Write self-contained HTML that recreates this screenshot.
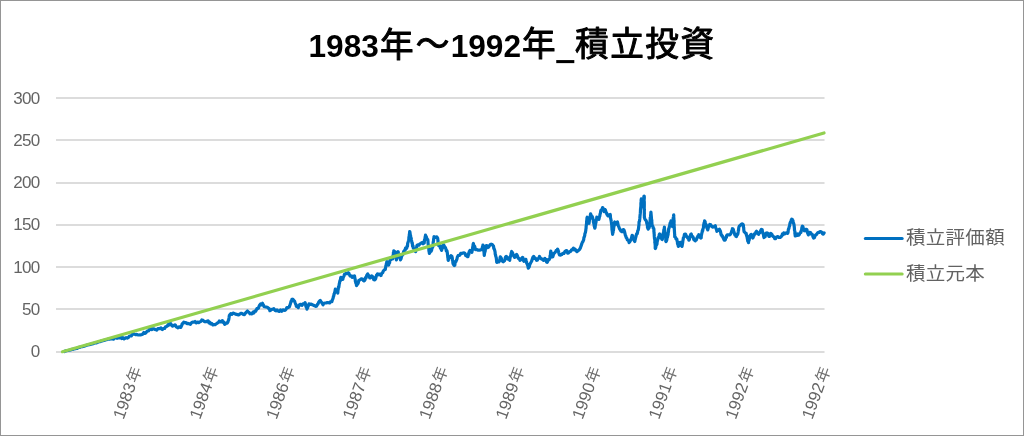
<!DOCTYPE html>
<html lang="ja"><head><meta charset="utf-8"><title>1983年～1992年_積立投資</title>
<style>html,body{margin:0;padding:0;background:#fff;}body{width:1024px;height:436px;overflow:hidden;font-family:"Liberation Sans","Noto Sans CJK JP",sans-serif;}svg{display:block;}text{font-family:"Liberation Sans","Noto Sans CJK JP",sans-serif;}</style></head><body>
<svg width="1024" height="436" viewBox="0 0 1024 436">
<rect x="0" y="0" width="1024" height="436" fill="#fff"/>
<rect x="0.5" y="0.5" width="1023" height="435" fill="none" stroke="#959595" stroke-width="1"/>
<g stroke="#dcdcdc" stroke-width="2">
<line x1="56" y1="98" x2="824.5" y2="98"/>
<line x1="56" y1="140" x2="824.5" y2="140"/>
<line x1="56" y1="183" x2="824.5" y2="183"/>
<line x1="56" y1="225" x2="824.5" y2="225"/>
<line x1="56" y1="267" x2="824.5" y2="267"/>
<line x1="56" y1="309" x2="824.5" y2="309"/>
<line x1="56" y1="352" x2="824.5" y2="352"/>
</g>
<g fill="#646464" font-size="17" text-anchor="end" letter-spacing="-0.7">
<text x="39.4" y="103.90">300</text>
<text x="39.4" y="145.90">250</text>
<text x="39.4" y="188.30">200</text>
<text x="39.4" y="230.00">150</text>
<text x="39.4" y="272.70">100</text>
<text x="39.4" y="315.00">50</text>
<text x="39.4" y="356.80">0</text>
</g>
<text fill="#000" font-weight="bold"><tspan x="308.5" y="56.6" font-size="31.6">1983</tspan><tspan x="380" y="56.5" font-weight="normal" stroke="#000" stroke-width="1" stroke-linejoin="round" font-size="33.6">年</tspan><tspan x="415.7" y="55.5" font-weight="normal" stroke="#000" stroke-width="1" stroke-linejoin="round" font-size="33.6">～</tspan><tspan x="450.7" y="56.6" font-size="31.6">1992</tspan><tspan x="521.9" y="56.3" font-weight="normal" stroke="#000" stroke-width="1" stroke-linejoin="round" font-size="33.6">年</tspan><tspan x="557.6" y="59.1" font-size="28" stroke="#000" stroke-width="2">_</tspan><tspan x="575" y="56.3" letter-spacing="1.6" font-weight="normal" stroke="#000" stroke-width="1" stroke-linejoin="round" font-size="33.6">積立投資</tspan></text>
<g fill="#646464" font-size="16.8">
<text transform="translate(142.1,369.2) rotate(-70)" text-anchor="end">1983<tspan font-size="15.6" dx="1.5" fill="#6e6e6e">年</tspan></text>
<text transform="translate(218.6,369.2) rotate(-70)" text-anchor="end">1984<tspan font-size="15.6" dx="1.5" fill="#6e6e6e">年</tspan></text>
<text transform="translate(295.1,369.2) rotate(-70)" text-anchor="end">1986<tspan font-size="15.6" dx="1.5" fill="#6e6e6e">年</tspan></text>
<text transform="translate(371.7,369.2) rotate(-70)" text-anchor="end">1987<tspan font-size="15.6" dx="1.5" fill="#6e6e6e">年</tspan></text>
<text transform="translate(448.2,369.2) rotate(-70)" text-anchor="end">1988<tspan font-size="15.6" dx="1.5" fill="#6e6e6e">年</tspan></text>
<text transform="translate(524.7,369.2) rotate(-70)" text-anchor="end">1989<tspan font-size="15.6" dx="1.5" fill="#6e6e6e">年</tspan></text>
<text transform="translate(601.2,369.2) rotate(-70)" text-anchor="end">1990<tspan font-size="15.6" dx="1.5" fill="#6e6e6e">年</tspan></text>
<text transform="translate(677.7,369.2) rotate(-70)" text-anchor="end">1991<tspan font-size="15.6" dx="1.5" fill="#6e6e6e">年</tspan></text>
<text transform="translate(754.3,369.2) rotate(-70)" text-anchor="end">1992<tspan font-size="15.6" dx="1.5" fill="#6e6e6e">年</tspan></text>
<text transform="translate(830.8,369.2) rotate(-70)" text-anchor="end">1992<tspan font-size="15.6" dx="1.5" fill="#6e6e6e">年</tspan></text>
</g>
<path d="M64.3,351.5 L65.5,351.0 L66.8,350.6 L68.0,350.5 L69.2,350.2 L70.4,349.9 L71.7,349.4 L73.0,349.4 L74.2,348.8 L75.5,348.6 L76.8,348.5 L78.0,347.8 L79.3,347.3 L80.5,347.1 L81.6,346.6 L82.9,346.6 L84.1,346.2 L85.4,345.7 L86.7,345.2 L87.8,344.9 L89.2,344.7 L90.3,344.4 L91.6,343.9 L92.9,343.8 L94.1,343.3 L95.3,343.0 L96.6,342.8 L97.9,342.1 L99.2,341.7 L100.3,341.6 L101.5,341.1 L102.7,340.8 L104.1,340.4 L105.4,339.9 L106.6,339.7 L107.8,339.3 L108.9,339.1 L110.1,339.1 L111.2,338.7 L112.2,338.8 L113.5,339.2 L114.6,338.0 L115.9,337.5 L117.0,338.3 L118.2,337.8 L119.5,337.9 L120.6,337.2 L121.7,338.6 L122.9,337.6 L124.1,338.9 L125.3,338.2 L126.2,337.7 L127.3,338.1 L128.3,337.6 L129.2,336.3 L130.2,336.0 L131.2,336.0 L132.2,334.5 L133.4,333.9 L134.4,334.1 L135.5,334.7 L136.8,334.4 L137.8,334.8 L139.0,335.0 L139.9,334.9 L141.0,334.9 L141.9,334.5 L142.9,334.0 L143.9,332.5 L144.9,333.4 L145.9,332.8 L146.8,331.6 L147.8,330.8 L148.7,330.8 L149.6,329.1 L150.7,329.4 L151.3,328.8 L152.0,329.5 L152.9,328.7 L153.9,328.9 L154.8,329.4 L155.9,329.7 L156.8,330.2 L157.9,328.5 L158.8,328.6 L159.8,328.7 L161.0,327.9 L162.3,329.6 L163.4,328.5 L164.6,328.5 L165.4,327.0 L166.2,326.6 L167.1,326.3 L168.0,324.7 L168.6,325.4 L169.5,323.6 L170.2,323.5 L170.8,323.8 L171.5,325.3 L172.6,326.1 L173.8,325.4 L174.9,324.8 L175.5,325.3 L176.2,326.9 L176.9,327.2 L178.0,327.8 L179.1,326.8 L180.3,327.4 L180.8,327.5 L181.3,326.2 L181.8,325.2 L182.2,323.8 L183.0,323.4 L183.8,322.1 L184.7,322.6 L185.7,322.5 L186.9,323.6 L188.1,323.4 L189.1,323.8 L190.4,324.4 L191.6,322.7 L192.6,322.1 L193.9,322.2 L195.0,321.5 L196.3,322.9 L197.5,322.0 L198.7,322.6 L199.8,321.9 L200.4,321.6 L201.2,321.1 L201.8,319.9 L203.0,320.3 L203.9,321.3 L205.1,321.8 L206.2,321.6 L207.2,321.0 L208.1,320.9 L208.9,322.8 L209.7,322.2 L210.5,323.8 L211.6,323.3 L212.9,324.9 L214.0,324.5 L215.1,324.6 L216.4,323.7 L217.4,322.9 L218.4,322.5 L219.3,321.0 L220.4,321.8 L221.3,321.9 L222.3,320.6 L222.9,322.3 L223.6,321.9 L224.1,323.0 L224.7,324.3 L225.5,323.8 L226.4,322.8 L227.2,323.1 L228.1,321.6 L228.3,320.4 L228.6,320.2 L228.8,319.1 L229.1,317.3 L229.4,315.1 L229.6,315.0 L230.7,313.7 L231.8,314.3 L233.0,313.1 L234.2,313.5 L235.5,314.1 L236.6,314.4 L237.9,314.8 L238.9,314.9 L239.8,314.0 L240.8,313.4 L241.7,313.4 L242.9,314.2 L243.8,314.6 L244.4,314.6 L245.0,313.6 L245.9,312.6 L246.6,311.9 L247.4,311.0 L248.3,312.0 L249.1,312.4 L250.0,313.8 L250.9,313.6 L251.9,313.9 L252.9,312.2 L253.8,313.0 L254.8,311.0 L255.7,311.2 L256.3,310.1 L256.9,308.7 L257.6,308.6 L258.4,308.1 L258.9,306.7 L259.6,305.3 L260.6,303.9 L261.7,304.9 L262.6,303.3 L263.0,305.1 L263.5,305.0 L264.1,306.6 L264.5,306.8 L265.6,307.0 L266.8,307.1 L267.9,307.7 L268.5,308.3 L269.3,308.7 L269.9,310.7 L270.9,310.1 L271.8,309.4 L272.8,309.2 L273.8,308.7 L274.8,310.2 L276.1,310.8 L277.0,310.0 L278.2,311.0 L279.3,311.4 L280.5,309.9 L281.7,311.3 L283.0,309.9 L284.1,310.2 L285.0,310.4 L286.0,309.4 L286.9,307.5 L288.0,307.7 L288.9,307.2 L289.2,307.0 L289.8,305.6 L290.1,304.6 L290.5,303.5 L291.0,301.3 L291.5,301.4 L291.9,299.4 L292.7,299.2 L293.5,299.9 L294.3,300.9 L294.6,301.3 L295.0,302.5 L295.5,303.8 L296.0,304.8 L296.3,306.3 L297.3,306.4 L298.2,307.7 L298.7,305.9 L299.2,305.0 L299.7,305.3 L300.2,304.3 L301.1,304.7 L302.1,305.3 L302.9,303.8 L303.7,303.8 L304.3,303.9 L305.1,302.6 L305.4,303.7 L305.8,305.8 L306.0,306.6 L306.4,307.3 L306.7,307.8 L307.0,309.2 L307.3,307.4 L307.7,307.5 L308.2,305.3 L308.5,305.6 L309.0,303.8 L310.2,304.5 L311.2,304.0 L312.4,304.8 L313.5,305.2 L314.6,305.7 L315.8,306.3 L316.5,306.2 L317.4,304.4 L317.9,304.3 L318.7,302.1 L319.4,301.1 L320.2,300.4 L320.8,301.3 L321.3,302.2 L321.8,302.6 L322.4,303.7 L323.1,304.8 L324.0,303.2 L325.1,303.0 L326.1,302.9 L327.3,302.7 L328.5,302.7 L329.6,302.9 L330.7,301.5 L331.9,301.6 L332.3,299.9 L332.5,299.8 L332.7,299.2 L333.2,297.8 L333.4,296.5 L333.8,295.9 L334.0,294.1 L334.4,293.5 L334.7,292.3 L335.0,291.2 L335.3,289.2 L336.0,290.6 L336.5,290.2 L337.1,291.8 L337.8,293.1 L337.8,292.9 L337.9,291.6 L337.9,290.5 L338.2,289.7 L338.4,287.1 L338.8,287.4 L339.0,285.8 L339.3,283.6 L339.6,282.8 L339.7,281.6 L340.1,280.3 L340.4,280.7 L340.6,278.3 L340.9,277.3 L341.5,278.3 L342.2,278.9 L342.8,279.3 L343.2,277.5 L343.5,276.8 L344.0,276.0 L344.4,274.4 L344.8,274.4 L345.8,273.4 L347.1,273.7 L348.2,272.7 L348.9,273.3 L349.5,274.8 L350.1,275.9 L351.1,275.8 L352.1,277.3 L353.0,276.2 L353.8,277.2 L354.5,275.9 L354.7,277.0 L355.1,279.3 L355.2,279.1 L355.4,281.6 L355.7,282.1 L355.9,283.2 L356.3,283.7 L356.5,285.6 L357.1,284.6 L357.7,283.9 L358.2,283.2 L358.8,280.4 L359.4,280.3 L360.1,279.8 L361.1,278.9 L361.9,278.8 L362.6,279.2 L363.5,280.8 L364.3,280.8 L364.8,280.2 L365.5,277.7 L366.1,277.8 L366.6,275.8 L367.1,274.8 L367.7,273.9 L368.3,275.1 L368.7,275.7 L369.2,275.9 L369.7,277.8 L370.3,277.8 L370.9,277.4 L371.6,275.9 L372.3,276.4 L373.1,277.2 L373.8,279.7 L374.6,279.8 L375.2,279.4 L375.6,278.7 L376.1,276.9 L376.6,275.0 L377.1,274.8 L377.5,273.9 L378.7,274.8 L379.7,274.1 L380.9,275.6 L381.6,273.7 L382.1,273.0 L382.7,272.6 L383.3,271.0 L384.4,269.8 L385.3,269.5 L385.5,268.0 L385.7,267.1 L385.9,265.5 L386.1,265.9 L386.4,263.4 L386.7,263.8 L386.8,261.7 L387.4,262.1 L388.0,263.1 L388.7,265.1 L389.0,263.2 L389.2,262.5 L389.6,262.7 L389.9,260.7 L390.2,259.8 L391.0,259.5 L391.8,258.8 L392.6,258.8 L392.7,257.2 L393.0,255.8 L393.1,255.7 L393.4,253.7 L393.4,252.7 L393.6,251.9 L393.8,250.9 L394.5,252.0 L395.0,251.7 L395.3,251.9 L395.3,254.5 L395.7,255.2 L395.8,255.4 L396.0,258.4 L396.3,259.4 L396.4,259.9 L396.8,258.2 L396.8,256.9 L397.2,256.7 L397.5,255.7 L397.7,254.6 L397.9,253.0 L398.2,251.7 L398.4,253.4 L398.8,254.9 L399.2,254.8 L399.4,255.9 L399.9,258.0 L400.1,257.9 L400.5,259.9 L401.0,258.9 L401.4,257.1 L401.9,255.5 L402.3,255.3 L402.9,254.5 L403.4,253.0 L403.7,251.4 L404.2,250.8 L405.0,250.4 L405.5,248.2 L406.2,248.7 L406.9,247.6 L407.2,245.9 L407.5,246.1 L407.7,243.1 L408.0,242.7 L408.4,241.1 L408.6,240.5 L408.8,239.7 L408.9,237.3 L409.2,236.3 L409.3,234.8 L409.3,234.6 L409.5,233.7 L409.7,231.5 L409.9,231.9 L410.1,233.5 L410.4,235.6 L410.6,235.6 L410.8,237.8 L411.1,237.9 L411.2,238.1 L411.4,239.8 L411.8,241.9 L412.0,243.2 L412.3,242.9 L412.4,244.3 L412.6,246.4 L413.0,245.8 L413.3,248.0 L413.9,248.7 L414.4,249.5 L415.0,249.8 L415.6,251.7 L415.8,250.3 L416.2,248.8 L416.4,247.9 L416.5,248.1 L416.8,246.2 L417.0,245.3 L417.8,244.8 L418.8,245.2 L419.8,243.9 L420.8,243.4 L422.1,242.5 L423.1,243.8 L424.2,243.0 L424.4,241.0 L424.5,239.9 L424.8,239.2 L425.0,239.3 L425.1,237.0 L425.4,236.5 L425.5,235.2 L425.9,236.5 L426.3,236.6 L426.6,238.4 L427.1,238.8 L427.5,240.0 L427.8,239.7 L428.0,241.6 L428.0,242.8 L428.3,245.1 L428.3,244.9 L428.4,246.7 L428.5,248.0 L428.8,248.5 L428.9,250.7 L429.1,251.8 L429.2,252.1 L429.4,253.5 L429.9,252.3 L430.6,250.9 L431.1,251.3 L431.7,249.9 L431.9,247.9 L432.2,247.8 L432.5,247.5 L432.9,246.4 L433.1,244.3 L433.2,242.2 L433.3,241.7 L433.6,240.3 L433.6,239.0 L433.9,238.2 L434.0,236.6 L434.9,237.5 L435.8,237.0 L436.8,236.9 L437.7,238.4 L437.8,239.2 L437.9,240.5 L438.0,241.3 L438.0,242.6 L438.1,244.3 L438.7,245.7 L439.4,245.2 L440.0,246.2 L440.4,248.2 L440.8,247.7 L441.3,249.6 L441.6,250.3 L442.0,248.4 L442.2,248.7 L442.6,247.8 L442.8,245.5 L443.2,244.8 L443.7,244.9 L444.5,246.5 L445.0,247.1 L445.5,247.9 L446.0,249.2 L446.3,251.0 L446.9,250.7 L447.3,252.6 L447.4,254.0 L447.5,254.6 L447.6,255.4 L447.8,257.3 L448.0,257.6 L448.0,258.9 L448.2,260.4 L448.7,258.8 L449.1,258.0 L449.6,257.7 L450.0,256.7 L450.9,255.7 L451.9,256.3 L452.1,257.6 L452.3,257.8 L452.4,260.2 L452.7,260.6 L452.9,263.1 L453.1,263.5 L453.3,264.5 L453.8,264.8 L454.3,265.5 L454.8,265.3 L455.1,262.5 L455.6,261.4 L455.9,261.6 L456.4,260.2 L456.9,259.2 L457.3,257.2 L458.1,255.6 L458.9,255.4 L459.9,255.1 L460.7,253.3 L461.8,253.4 L462.9,253.0 L464.1,252.8 L464.9,253.3 L465.8,255.6 L466.6,255.7 L467.5,256.7 L468.0,256.6 L468.3,253.9 L468.8,254.5 L469.2,251.6 L469.7,251.2 L470.0,250.4 L470.7,251.3 L471.3,251.0 L471.9,252.3 L472.2,250.5 L472.3,250.5 L472.6,247.9 L472.7,247.1 L473.0,245.8 L473.1,244.3 L473.4,243.5 L473.8,245.5 L474.1,246.0 L474.6,246.1 L475.0,247.5 L475.3,249.4 L476.2,249.7 L477.1,249.5 L478.0,250.1 L479.0,250.1 L479.9,250.2 L480.9,249.6 L481.9,249.6 L482.1,248.7 L482.4,246.9 L482.7,246.9 L482.9,245.2 L483.1,245.8 L483.2,247.0 L483.4,248.9 L483.5,250.2 L483.8,250.7 L484.0,252.0 L484.2,254.7 L484.3,255.4 L484.5,253.3 L484.7,252.7 L485.0,251.0 L485.1,251.5 L485.3,250.0 L485.4,249.1 L485.6,247.8 L485.8,245.7 L486.8,245.5 L487.8,247.5 L488.7,247.1 L489.4,245.8 L490.4,244.5 L491.2,244.2 L492.2,244.5 L493.1,245.7 L493.5,246.0 L493.8,248.6 L494.0,248.4 L494.4,249.5 L494.7,250.3 L495.1,252.0 L495.2,254.0 L495.6,255.1 L495.7,256.0 L495.9,256.6 L496.2,257.4 L496.4,259.0 L496.6,260.8 L496.7,262.1 L497.0,262.3 L498.0,261.8 L499.0,261.8 L499.4,260.1 L499.7,259.5 L499.9,258.7 L500.3,256.9 L500.7,257.2 L501.1,257.9 L501.6,259.3 L501.9,260.8 L503.2,261.8 L504.4,260.8 L504.9,260.0 L505.3,257.6 L505.7,256.8 L506.3,256.4 L507.2,257.2 L508.0,259.1 L508.8,258.8 L509.7,260.3 L510.0,258.1 L510.2,257.5 L510.5,256.2 L510.8,255.4 L511.1,253.4 L511.4,252.7 L511.7,251.5 L512.1,253.4 L512.6,252.8 L513.1,254.7 L513.7,256.0 L514.1,255.9 L514.6,257.4 L515.2,256.7 L515.9,255.2 L516.6,254.5 L517.2,255.4 L517.8,256.9 L518.2,258.2 L518.8,258.4 L519.4,258.8 L520.0,260.3 L520.7,259.9 L521.5,258.5 L522.4,257.4 L522.9,257.7 L523.1,259.6 L523.5,260.6 L523.9,261.3 L524.6,260.0 L525.2,259.6 L525.9,259.3 L526.1,261.2 L526.6,261.9 L526.7,263.3 L527.1,263.6 L527.4,264.7 L527.6,265.1 L527.9,266.1 L528.3,268.1 L528.7,267.5 L529.3,266.7 L529.8,264.5 L530.2,263.7 L530.7,262.8 L531.3,261.8 L531.7,261.0 L532.3,259.0 L532.8,257.6 L533.2,256.9 L533.7,256.4 L534.5,258.3 L535.2,258.0 L536.0,259.0 L536.6,260.3 L537.3,260.1 L538.1,258.7 L538.8,258.3 L539.5,256.4 L540.3,257.9 L541.1,258.7 L541.8,259.2 L542.6,259.1 L543.4,260.3 L544.1,259.6 L544.9,258.4 L545.4,260.2 L546.0,259.4 L546.6,262.2 L547.3,262.3 L547.9,260.6 L548.5,259.4 L549.2,259.6 L549.8,258.4 L550.0,257.6 L550.0,256.1 L550.3,255.3 L550.5,254.2 L550.5,253.0 L550.8,251.0 L551.2,253.1 L551.3,252.8 L551.6,253.6 L552.0,256.3 L552.2,256.9 L552.8,256.7 L553.4,254.7 L553.9,253.5 L554.6,252.8 L555.1,252.5 L555.7,251.5 L556.3,250.3 L556.9,250.4 L557.6,249.1 L558.0,249.9 L558.5,251.4 L558.8,252.8 L559.0,253.6 L559.5,254.9 L560.6,255.1 L561.7,254.6 L562.8,253.3 L563.9,253.5 L564.8,251.7 L565.6,250.9 L566.4,250.6 L566.9,250.8 L567.7,253.2 L568.3,253.0 L569.1,252.3 L570.0,251.6 L570.8,251.3 L571.6,249.8 L572.5,249.6 L573.4,248.1 L574.2,249.9 L575.1,249.3 L576.1,250.7 L576.9,251.6 L577.7,251.0 L578.5,250.4 L579.5,249.5 L580.3,248.1 L580.8,246.7 L581.2,245.6 L581.8,243.9 L582.2,242.6 L582.6,242.0 L583.1,241.3 L583.5,240.1 L583.7,239.6 L583.9,237.6 L584.3,236.9 L584.7,235.5 L584.9,233.6 L585.1,233.4 L585.5,232.0 L585.8,230.3 L585.9,229.0 L586.1,228.1 L586.1,226.7 L586.4,225.0 L586.4,223.9 L586.6,223.8 L586.6,221.3 L586.8,220.4 L586.9,218.9 L587.0,217.8 L587.2,217.2 L587.7,218.9 L587.8,220.6 L588.2,220.7 L588.7,222.7 L589.0,223.4 L589.2,222.1 L589.3,221.3 L589.5,219.2 L589.8,217.7 L590.0,218.0 L590.2,216.2 L590.4,214.9 L590.6,213.8 L591.1,215.0 L591.6,216.3 L592.3,216.7 L592.7,217.9 L592.9,219.5 L593.2,219.6 L593.4,222.1 L593.7,222.9 L593.9,224.0 L594.1,224.7 L594.3,226.2 L594.5,226.9 L594.8,228.2 L595.1,227.4 L595.3,225.3 L595.5,224.4 L595.7,223.1 L595.9,222.9 L596.1,221.2 L596.4,219.4 L596.6,219.4 L596.8,217.2 L597.4,218.0 L598.1,219.2 L598.9,219.3 L599.2,218.2 L599.3,217.2 L599.7,216.4 L599.9,215.1 L600.2,213.7 L600.4,213.4 L600.6,211.8 L600.9,210.3 L601.4,209.9 L602.0,209.5 L602.6,207.6 L602.9,207.7 L603.3,209.4 L603.6,210.5 L604.1,211.7 L604.6,211.0 L605.1,209.6 L605.5,210.2 L605.9,212.1 L606.5,212.8 L606.8,214.3 L607.3,214.2 L607.8,215.8 L608.5,215.9 L609.5,215.1 L610.2,214.4 L610.4,215.8 L610.5,217.9 L610.7,218.5 L611.0,220.1 L611.1,220.3 L611.3,222.0 L611.4,222.5 L611.6,224.2 L611.8,225.3 L611.8,226.5 L611.9,227.6 L612.0,229.9 L612.2,230.2 L612.3,231.9 L612.5,233.4 L612.6,234.4 L612.8,232.9 L613.1,232.6 L613.1,231.3 L613.5,230.0 L613.6,228.9 L613.9,226.0 L614.0,226.6 L614.3,224.0 L614.4,222.5 L614.7,222.0 L615.3,223.6 L616.1,224.1 L616.8,222.4 L617.5,222.0 L617.9,223.8 L618.1,225.2 L618.5,226.2 L618.8,226.8 L619.4,228.5 L620.0,229.4 L620.4,230.1 L621.0,231.1 L621.6,231.6 L622.3,231.7 L622.9,229.8 L623.6,229.6 L623.9,229.9 L624.3,230.8 L624.6,232.0 L625.0,233.7 L625.4,235.5 L625.7,235.8 L626.2,237.6 L626.8,238.2 L627.4,239.9 L627.9,240.2 L628.6,240.6 L629.1,242.6 L629.7,241.8 L630.1,240.8 L630.7,240.4 L631.2,238.5 L631.5,238.4 L631.8,236.4 L632.1,235.4 L632.6,235.5 L633.0,237.7 L633.4,239.2 L633.9,239.5 L634.4,241.1 L634.8,241.6 L635.0,240.2 L635.3,239.2 L635.7,237.5 L636.0,236.4 L636.2,235.4 L636.6,233.8 L637.0,234.1 L637.5,232.7 L637.8,230.6 L638.3,229.9 L638.4,228.8 L638.6,227.9 L638.7,226.5 L639.0,224.9 L639.0,223.2 L639.1,221.7 L639.5,221.2 L639.6,220.3 L639.8,218.7 L639.9,217.5 L640.0,216.1 L640.2,214.1 L640.3,213.4 L640.4,212.1 L640.5,210.2 L640.5,208.8 L640.7,209.4 L640.7,207.1 L640.9,206.7 L640.9,204.5 L640.9,203.6 L641.0,202.4 L641.2,202.2 L641.1,200.2 L641.3,198.9 L641.4,199.4 L641.7,201.6 L641.9,202.6 L641.9,203.7 L642.2,206.1 L642.4,206.5 L642.7,205.3 L642.8,203.4 L643.0,202.5 L643.1,201.0 L643.3,201.1 L643.5,200.6 L643.7,199.2 L643.9,196.4 L644.2,196.2 L644.3,196.9 L644.3,198.1 L644.1,200.5 L644.3,201.9 L644.3,201.6 L644.3,204.1 L644.3,205.8 L644.2,207.2 L644.3,206.5 L644.2,209.0 L644.4,209.1 L644.3,211.7 L644.3,213.2 L644.4,212.9 L644.3,215.1 L644.4,216.6 L644.4,217.5 L644.9,219.1 L645.4,219.8 L646.0,220.4 L646.5,221.6 L646.8,223.4 L647.2,224.7 L647.4,225.0 L647.5,227.6 L648.0,228.6 L648.2,229.2 L648.6,228.3 L649.2,227.6 L649.5,225.8 L649.6,224.2 L649.7,224.1 L649.9,222.4 L650.0,221.6 L650.2,219.1 L650.2,217.8 L650.4,217.2 L650.6,216.5 L650.6,215.2 L650.8,214.0 L650.9,212.0 L651.0,212.8 L651.2,215.1 L651.3,216.5 L651.3,216.1 L651.5,218.8 L651.5,219.9 L651.8,220.1 L651.8,222.3 L651.9,222.6 L652.0,224.4 L652.4,225.9 L652.9,226.4 L653.2,228.1 L653.7,228.5 L653.9,229.2 L653.9,231.8 L654.1,232.3 L654.1,233.7 L654.2,234.1 L654.3,236.4 L654.4,237.4 L654.5,238.5 L654.6,238.8 L654.9,240.7 L654.8,242.5 L655.0,242.8 L655.1,244.4 L655.2,245.0 L655.2,248.2 L655.4,248.5 L655.8,247.4 L656.0,245.9 L656.4,245.1 L656.7,244.7 L657.0,244.0 L657.2,241.1 L657.5,240.9 L657.8,239.1 L658.1,237.7 L658.6,238.2 L658.9,237.2 L659.3,234.3 L659.6,234.0 L660.2,234.9 L660.6,237.1 L661.2,237.4 L661.8,239.3 L662.3,239.5 L662.5,238.0 L662.7,236.3 L663.0,236.8 L663.1,233.6 L663.3,233.0 L663.6,232.9 L663.8,229.9 L664.0,230.0 L664.2,229.3 L664.4,227.1 L664.4,227.6 L664.7,230.4 L664.8,230.3 L665.0,232.4 L665.0,232.8 L665.2,233.6 L665.3,234.9 L665.4,236.1 L665.6,237.0 L665.8,238.6 L665.8,241.2 L666.0,241.6 L666.3,241.2 L666.8,239.9 L667.0,237.8 L667.4,237.5 L667.8,235.4 L668.1,234.5 L668.2,232.7 L668.5,231.8 L668.6,229.9 L668.7,228.6 L669.0,228.4 L669.2,227.1 L669.5,226.6 L669.9,224.4 L670.2,222.9 L670.7,221.8 L671.0,220.9 L671.2,222.0 L671.5,223.9 L671.8,225.2 L672.0,226.2 L672.4,226.5 L672.6,224.8 L672.7,223.7 L672.7,222.4 L672.9,222.8 L673.1,221.5 L673.1,219.1 L673.4,217.4 L673.5,216.7 L673.7,215.0 L673.7,214.8 L673.8,215.8 L673.7,216.4 L673.9,218.7 L673.9,219.8 L674.1,220.7 L674.1,221.8 L674.0,224.4 L674.2,224.5 L674.1,225.6 L674.3,227.7 L674.3,228.4 L674.4,230.7 L674.5,231.8 L674.5,232.0 L674.6,234.0 L674.7,234.6 L674.7,236.8 L675.4,237.1 L676.0,238.9 L676.5,238.8 L676.8,238.9 L677.1,240.9 L677.4,241.6 L677.5,243.8 L677.8,243.6 L678.1,245.5 L678.4,246.4 L678.8,245.4 L679.3,244.4 L679.7,243.8 L680.2,242.3 L680.7,244.1 L681.1,244.8 L681.5,245.9 L682.0,246.4 L682.1,245.9 L682.5,243.8 L682.7,242.6 L682.9,240.4 L683.2,239.5 L683.3,238.0 L683.6,237.5 L684.0,237.0 L684.4,234.4 L685.0,234.0 L685.7,234.3 L686.3,236.1 L687.1,236.8 L687.7,238.0 L688.3,238.3 L688.9,240.2 L689.4,239.6 L689.6,237.4 L690.0,237.1 L690.4,235.3 L690.8,234.3 L691.2,234.0 L691.7,235.7 L692.2,236.2 L692.8,236.4 L693.3,238.1 L694.0,239.9 L694.6,239.8 L695.3,240.9 L695.9,240.1 L696.3,240.1 L696.9,238.0 L697.4,237.5 L697.8,236.2 L698.3,236.6 L698.8,234.7 L699.4,236.4 L699.9,237.1 L700.2,237.3 L700.8,238.1 L701.2,237.9 L701.3,235.7 L701.6,234.5 L701.9,232.8 L702.1,232.5 L702.3,230.7 L702.7,230.9 L702.9,229.2 L703.2,228.3 L703.4,227.6 L703.7,224.7 L703.9,224.0 L704.1,222.8 L704.4,222.9 L704.6,220.9 L705.1,221.6 L705.5,223.1 L705.9,224.4 L706.4,225.1 L706.6,226.9 L706.9,227.9 L707.4,228.8 L707.7,229.9 L708.1,228.7 L708.5,227.0 L708.9,225.9 L709.3,225.3 L709.8,224.4 L710.7,224.8 L711.5,226.3 L712.5,227.1 L713.5,226.9 L714.4,226.5 L715.3,225.8 L715.6,227.3 L715.9,228.1 L716.3,229.0 L716.5,229.7 L716.9,231.3 L717.7,230.6 L718.5,230.1 L719.4,229.2 L719.7,230.0 L720.3,230.9 L720.7,232.5 L721.0,234.6 L721.5,234.7 L722.0,236.3 L722.5,236.0 L723.2,237.9 L723.6,238.9 L724.2,240.2 L725.0,240.1 L725.4,239.5 L725.8,237.5 L726.4,237.5 L726.6,235.6 L727.1,234.9 L728.3,234.9 L729.5,234.9 L730.7,233.9 L731.1,232.9 L731.4,232.3 L731.8,230.7 L732.1,230.2 L732.4,228.7 L733.0,229.0 L733.4,229.8 L733.9,232.0 L734.3,232.9 L734.8,234.7 L735.4,234.5 L735.9,236.3 L736.4,236.5 L736.9,235.4 L737.4,234.7 L737.9,233.9 L738.1,232.4 L738.2,231.8 L738.4,230.2 L738.6,230.1 L738.7,228.2 L738.9,227.2 L739.5,225.9 L740.2,225.6 L741.0,224.6 L742.1,223.8 L743.1,224.6 L743.4,225.4 L743.5,227.7 L743.7,227.6 L743.8,230.2 L743.8,229.7 L744.1,231.8 L744.8,232.3 L745.6,233.4 L746.2,233.4 L746.5,235.5 L746.7,235.7 L747.0,236.6 L747.2,238.0 L747.5,239.4 L747.8,241.2 L748.2,241.6 L748.5,242.7 L748.6,241.3 L748.9,240.6 L749.2,240.1 L749.5,238.2 L749.6,237.4 L749.8,236.0 L750.6,234.9 L751.3,234.4 L751.8,236.2 L752.2,236.4 L752.7,238.0 L753.2,237.6 L753.6,235.2 L754.1,235.3 L754.4,233.9 L755.2,234.0 L755.9,232.0 L756.5,231.3 L757.1,231.9 L757.9,233.4 L758.6,234.4 L759.0,232.9 L759.6,232.8 L760.1,232.7 L760.6,230.8 L761.4,229.4 L762.2,229.8 L762.4,231.5 L762.7,232.4 L762.9,232.7 L763.3,234.4 L763.5,234.7 L763.7,236.5 L764.0,237.5 L764.5,236.9 L765.1,236.7 L765.7,234.6 L766.2,233.1 L766.8,232.9 L767.5,233.0 L768.0,234.0 L768.8,236.2 L769.4,236.5 L769.9,236.1 L770.3,233.5 L770.9,233.4 L771.7,234.1 L772.3,235.2 L773.0,236.5 L773.8,236.7 L774.7,238.7 L775.6,238.6 L776.1,237.5 L776.6,237.0 L777.8,236.6 L778.9,237.5 L780.1,237.5 L781.3,236.5 L781.9,235.8 L782.5,233.8 L783.3,234.5 L783.8,232.9 L785.0,233.9 L786.3,232.8 L787.5,233.4 L787.8,233.2 L788.1,232.1 L788.3,229.8 L788.7,228.4 L788.9,228.6 L789.2,226.7 L789.6,226.0 L789.9,223.6 L790.3,222.4 L790.8,221.3 L791.1,220.5 L791.7,219.2 L792.3,219.5 L792.6,220.3 L793.0,220.7 L793.2,223.2 L793.6,223.1 L794.0,224.6 L794.1,225.4 L794.2,226.2 L794.4,228.1 L794.5,230.1 L794.6,230.5 L794.9,231.5 L794.9,234.1 L795.1,234.1 L795.2,236.0 L795.9,235.7 L796.6,235.5 L797.3,233.9 L798.1,235.3 L799.1,234.9 L799.7,233.5 L800.3,232.5 L800.9,232.4 L801.2,230.7 L801.6,230.1 L801.8,228.2 L802.1,226.9 L802.4,226.2 L802.9,226.6 L803.4,228.6 L803.8,230.2 L804.3,230.8 L805.0,230.6 L805.8,229.4 L806.6,229.3 L806.9,229.6 L807.3,232.2 L807.6,233.0 L808.0,233.9 L808.4,234.9 L808.8,234.1 L809.2,232.4 L809.7,232.4 L810.5,232.5 L811.3,234.2 L812.2,234.4 L812.6,235.4 L813.2,237.3 L813.6,238.0 L814.4,237.7 L815.1,235.5 L815.9,234.9 L816.6,234.4 L817.6,232.9 L818.4,232.4 L819.2,232.5 L820.2,231.5 L821.0,231.8 L821.6,232.2 L822.1,232.6 L822.6,233.9 L823.3,234.2 L824.1,232.9" fill="none" stroke="#0070c0" stroke-width="3.2" stroke-linejoin="round" stroke-linecap="round"/>
<line x1="62.5" y1="351.7" x2="824" y2="133" stroke="#92d050" stroke-width="3.2" stroke-linecap="round"/>
<line x1="865.3" y1="238.6" x2="902.2" y2="238.6" stroke="#0070c0" stroke-width="3" stroke-linecap="round"/>
<line x1="865.3" y1="274" x2="902.2" y2="274" stroke="#92d050" stroke-width="3" stroke-linecap="round"/>
<g fill="#626262" font-size="19.5" letter-spacing="0.3">
<text transform="translate(906,244.1) scale(1,0.94)">積立評価額</text>
<text transform="translate(906,279.5) scale(1,0.94)">積立元本</text>
</g>
</svg></body></html>
